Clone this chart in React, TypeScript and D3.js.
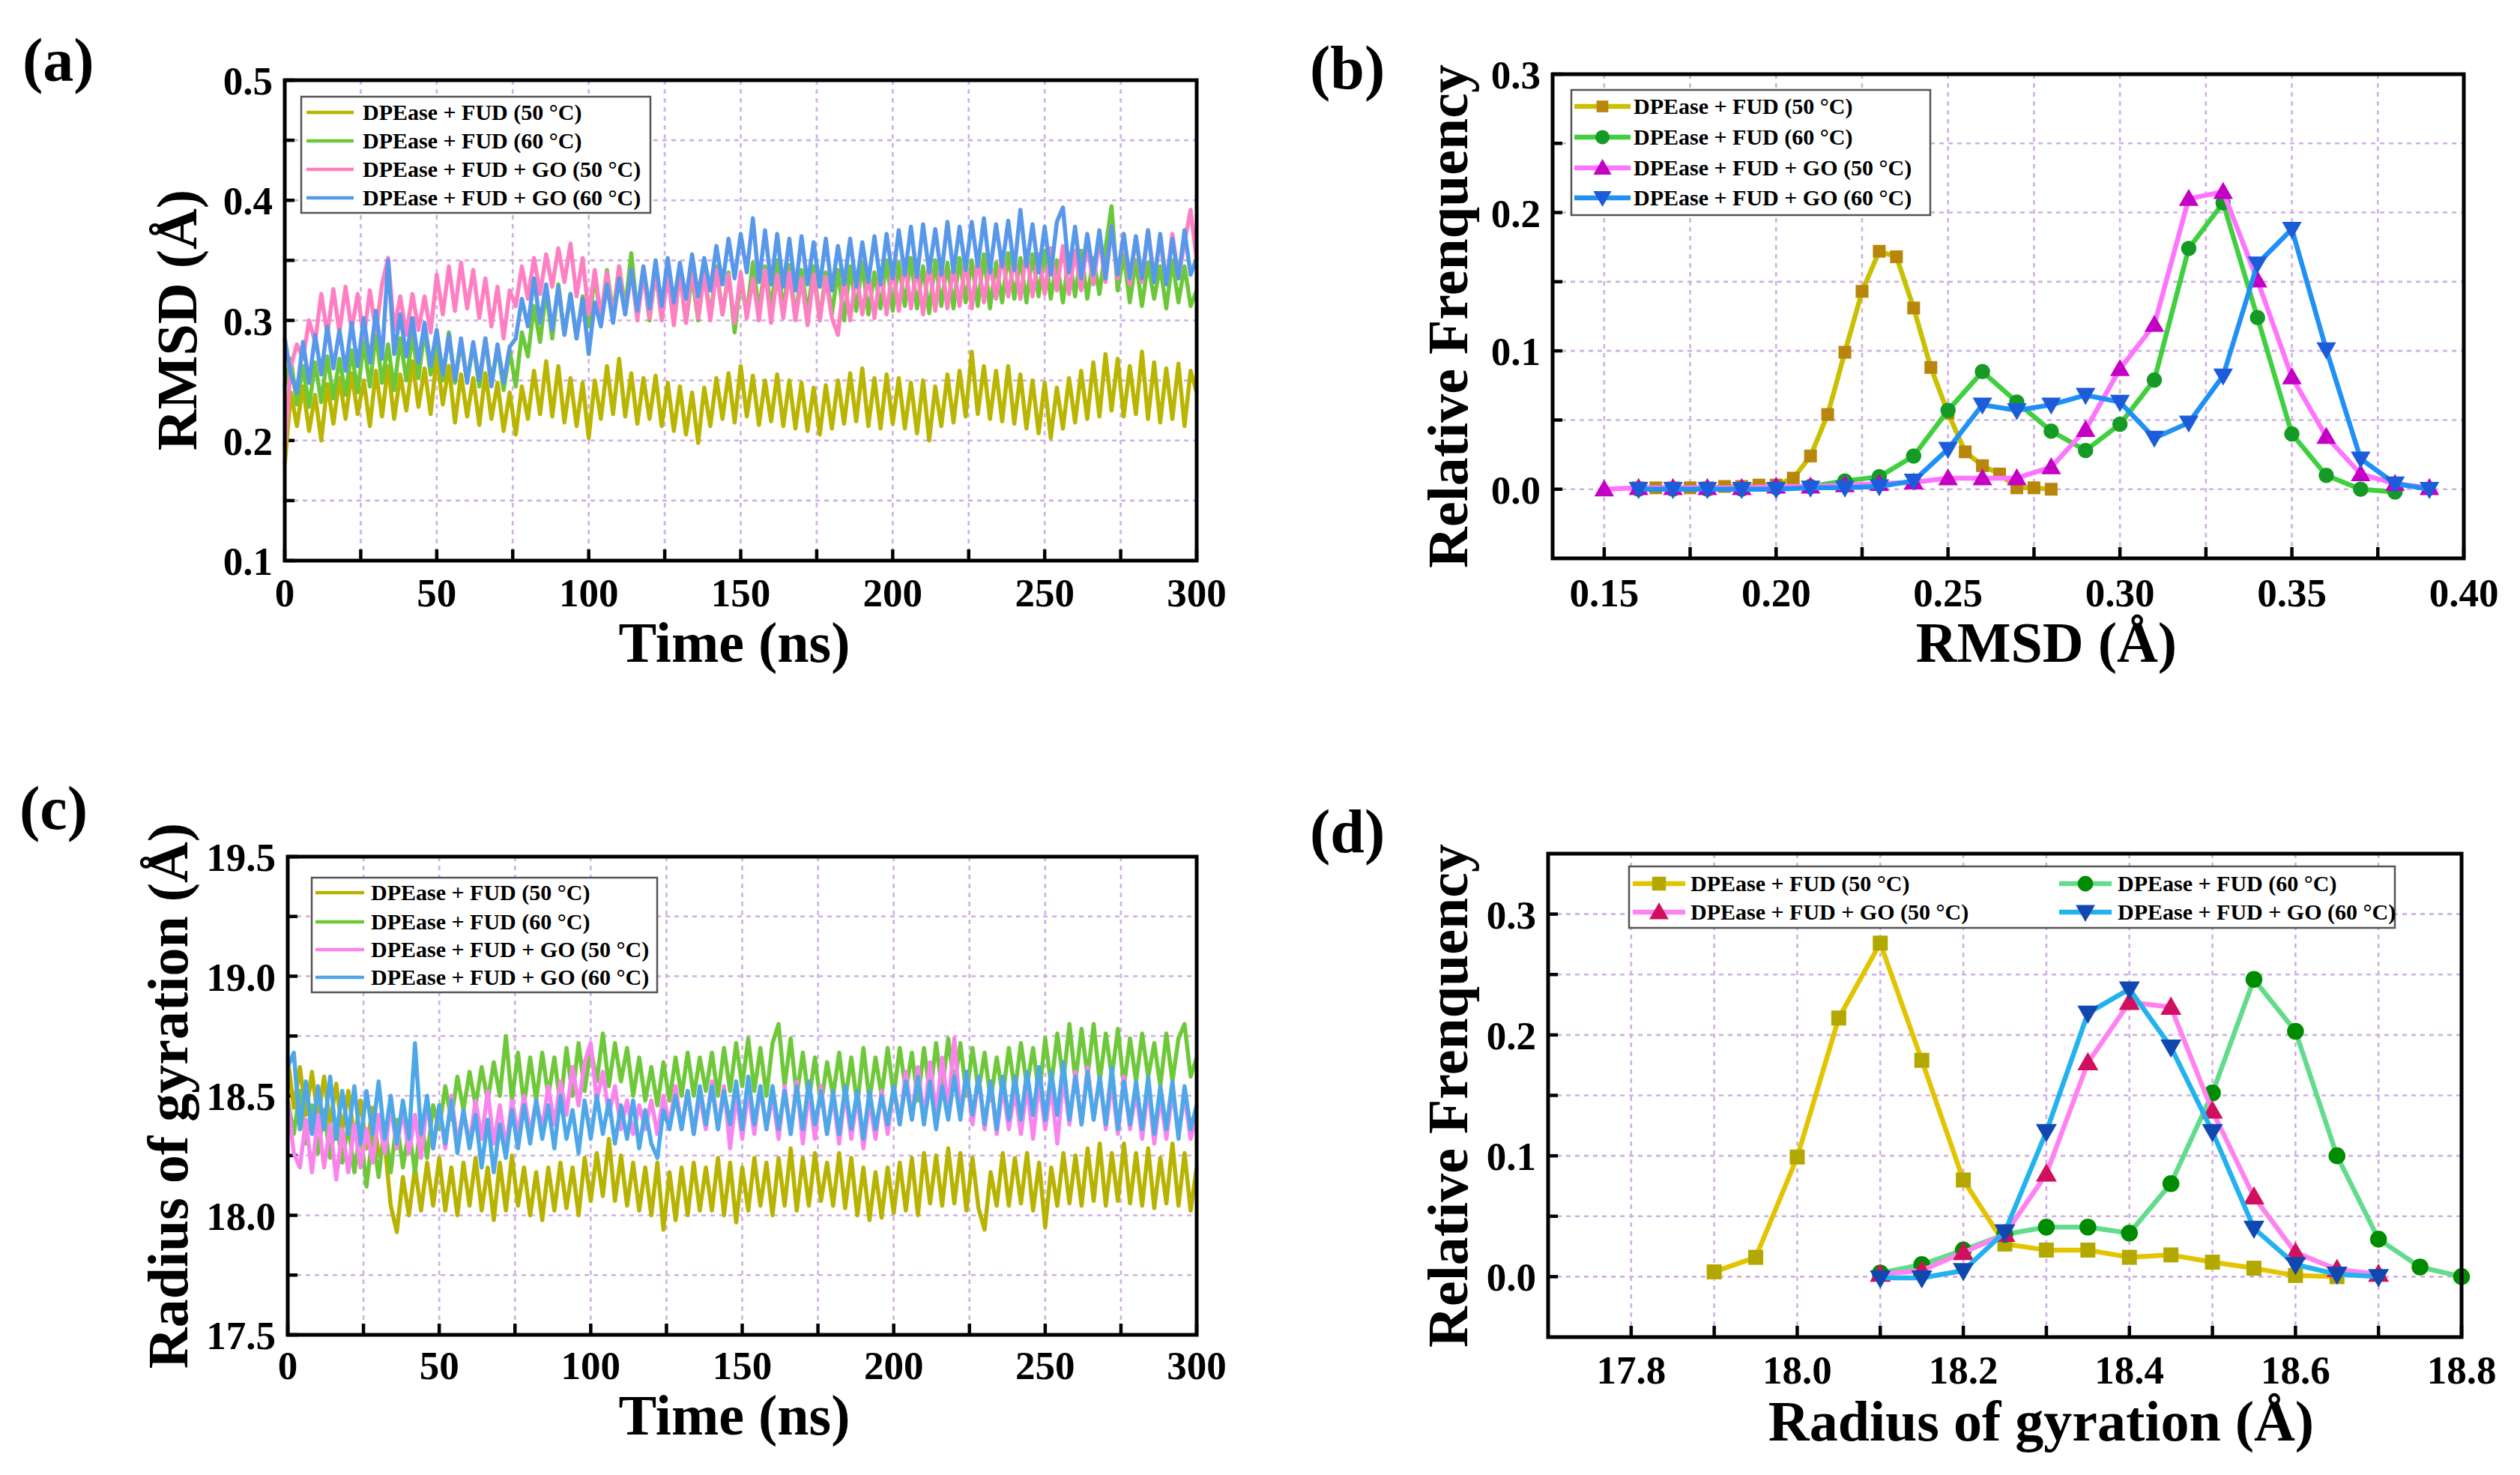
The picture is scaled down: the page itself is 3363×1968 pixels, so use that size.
import React from 'react';
import * as d3 from 'd3';

const FONT = '"Liberation Serif","Times New Roman",serif';

const LABELS = [
  'DPEase + FUD (50 °C)',
  'DPEase + FUD (60 °C)',
  'DPEase + FUD + GO (50 °C)',
  'DPEase + FUD + GO (60 °C)',
];

// ---------- (a) RMSD vs time, sampled every 2 ns ----------
const TIME = d3.range(0, 301, 2);

const RMSD_FUD50 = [
  0.180, 0.240, 0.212, 0.245, 0.208, 0.238, 0.200, 0.247, 0.214, 0.252,
  0.218, 0.256, 0.222, 0.250, 0.212, 0.258, 0.220, 0.262, 0.218, 0.255,
  0.225, 0.266, 0.228, 0.260, 0.222, 0.270, 0.230, 0.262, 0.215, 0.255,
  0.220, 0.252, 0.213, 0.256, 0.218, 0.248, 0.208, 0.240, 0.205, 0.245,
  0.218, 0.258, 0.222, 0.266, 0.220, 0.262, 0.215, 0.252, 0.212, 0.248,
  0.202, 0.250, 0.218, 0.262, 0.222, 0.268, 0.220, 0.256, 0.214, 0.252,
  0.218, 0.254, 0.212, 0.248, 0.208, 0.245, 0.205, 0.240, 0.198, 0.244,
  0.212, 0.252, 0.218, 0.256, 0.215, 0.262, 0.220, 0.254, 0.213, 0.250,
  0.216, 0.255, 0.212, 0.250, 0.210, 0.248, 0.208, 0.244, 0.205, 0.246,
  0.210, 0.250, 0.214, 0.256, 0.216, 0.260, 0.212, 0.252, 0.210, 0.255,
  0.214, 0.252, 0.210, 0.248, 0.206, 0.250, 0.200, 0.245, 0.212, 0.255,
  0.215, 0.258, 0.220, 0.274, 0.222, 0.262, 0.218, 0.258, 0.216, 0.262,
  0.214, 0.255, 0.210, 0.250, 0.206, 0.248, 0.202, 0.244, 0.210, 0.252,
  0.215, 0.258, 0.218, 0.265, 0.220, 0.272, 0.225, 0.268, 0.220, 0.262,
  0.222, 0.274, 0.218, 0.265, 0.215, 0.260, 0.218, 0.264, 0.212, 0.258,
  0.240,
];
const RMSD_FUD60 = [
  0.245, 0.268, 0.230, 0.262, 0.228, 0.265, 0.232, 0.270, 0.235, 0.268,
  0.238, 0.275, 0.240, 0.282, 0.245, 0.290, 0.248, 0.280, 0.242, 0.285,
  0.250, 0.288, 0.252, 0.292, 0.255, 0.285, 0.250, 0.290, 0.248, 0.282,
  0.250, 0.280, 0.245, 0.285, 0.248, 0.278, 0.242, 0.275, 0.245, 0.290,
  0.270, 0.312, 0.282, 0.325, 0.285, 0.330, 0.288, 0.322, 0.285, 0.320,
  0.295, 0.338, 0.300, 0.342, 0.305, 0.345, 0.310, 0.356, 0.305, 0.340,
  0.300, 0.342, 0.302, 0.345, 0.300, 0.340, 0.298, 0.338, 0.300, 0.342,
  0.302, 0.345, 0.305, 0.340, 0.290, 0.335, 0.305, 0.348, 0.308, 0.345,
  0.310, 0.350, 0.308, 0.346, 0.302, 0.342, 0.305, 0.345, 0.300, 0.340,
  0.305, 0.342, 0.300, 0.345, 0.308, 0.348, 0.305, 0.340, 0.310, 0.350,
  0.308, 0.348, 0.312, 0.352, 0.310, 0.345, 0.306, 0.350, 0.312, 0.348,
  0.310, 0.352, 0.315, 0.350, 0.312, 0.355, 0.310, 0.348, 0.315, 0.356,
  0.318, 0.352, 0.315, 0.355, 0.320, 0.358, 0.318, 0.350, 0.315, 0.355,
  0.320, 0.358, 0.318, 0.352, 0.322, 0.360, 0.395, 0.325, 0.355, 0.315,
  0.350, 0.312, 0.348, 0.318, 0.345, 0.310, 0.350, 0.315, 0.345, 0.312,
  0.325,
];
const RMSD_GO50 = [
  0.195, 0.262, 0.280, 0.268, 0.300, 0.282, 0.322, 0.288, 0.326, 0.290,
  0.328, 0.292, 0.322, 0.285, 0.325, 0.290, 0.330, 0.352, 0.292, 0.320,
  0.288, 0.322, 0.292, 0.320, 0.290, 0.338, 0.305, 0.345, 0.308, 0.348,
  0.310, 0.342, 0.302, 0.335, 0.295, 0.328, 0.285, 0.325, 0.312, 0.345,
  0.318, 0.352, 0.322, 0.355, 0.328, 0.360, 0.332, 0.364, 0.320, 0.352,
  0.305, 0.342, 0.302, 0.340, 0.300, 0.345, 0.305, 0.342, 0.300, 0.340,
  0.302, 0.342, 0.300, 0.338, 0.296, 0.340, 0.298, 0.345, 0.302, 0.338,
  0.300, 0.342, 0.305, 0.338, 0.298, 0.340, 0.302, 0.335, 0.300, 0.342,
  0.298, 0.338, 0.302, 0.340, 0.300, 0.335, 0.296, 0.338, 0.300, 0.336,
  0.302, 0.288, 0.335, 0.300, 0.340, 0.305, 0.338, 0.302, 0.342, 0.305,
  0.345, 0.308, 0.348, 0.310, 0.345, 0.305, 0.348, 0.308, 0.350, 0.310,
  0.345, 0.312, 0.350, 0.310, 0.352, 0.315, 0.348, 0.318, 0.355, 0.320,
  0.352, 0.318, 0.358, 0.320, 0.355, 0.322, 0.360, 0.325, 0.362, 0.322,
  0.358, 0.325, 0.365, 0.330, 0.368, 0.332, 0.378, 0.335, 0.372, 0.330,
  0.370, 0.332, 0.375, 0.335, 0.368, 0.330, 0.372, 0.335, 0.365, 0.392,
  0.350,
];
const RMSD_GO60 = [
  0.285, 0.255, 0.240, 0.282, 0.248, 0.288, 0.255, 0.295, 0.260, 0.292,
  0.258, 0.298, 0.262, 0.302, 0.265, 0.308, 0.268, 0.350, 0.272, 0.305,
  0.270, 0.302, 0.265, 0.298, 0.262, 0.292, 0.255, 0.288, 0.250, 0.285,
  0.248, 0.282, 0.250, 0.285, 0.245, 0.280, 0.248, 0.278, 0.285, 0.318,
  0.295, 0.335, 0.298, 0.330, 0.292, 0.328, 0.288, 0.322, 0.285, 0.318,
  0.272, 0.315, 0.295, 0.330, 0.298, 0.335, 0.305, 0.342, 0.308, 0.345,
  0.310, 0.350, 0.312, 0.352, 0.315, 0.348, 0.318, 0.355, 0.320, 0.352,
  0.325, 0.362, 0.330, 0.368, 0.335, 0.372, 0.340, 0.385, 0.332, 0.375,
  0.330, 0.372, 0.328, 0.368, 0.325, 0.370, 0.330, 0.365, 0.328, 0.368,
  0.325, 0.362, 0.330, 0.368, 0.328, 0.365, 0.332, 0.370, 0.330, 0.372,
  0.335, 0.375, 0.338, 0.378, 0.336, 0.380, 0.340, 0.376, 0.338, 0.382,
  0.340, 0.378, 0.342, 0.382, 0.345, 0.385, 0.340, 0.380, 0.345, 0.383,
  0.342, 0.392, 0.345, 0.380, 0.340, 0.378, 0.338, 0.382, 0.394, 0.340,
  0.378, 0.335, 0.372, 0.338, 0.375, 0.335, 0.378, 0.338, 0.372, 0.335,
  0.370, 0.335, 0.375, 0.332, 0.372, 0.330, 0.368, 0.335, 0.375, 0.338,
  0.352,
];

// ---------- (c) Radius of gyration vs time, sampled every 2 ns ----------
const RG_FUD50 = [
  18.66, 18.45, 18.62, 18.42, 18.60, 18.40, 18.58, 18.38, 18.55, 18.35,
  18.52, 18.32, 18.48, 18.28, 18.45, 18.25, 18.30, 18.04, 17.93, 18.16,
  18.00, 18.20, 18.02, 18.22, 18.04, 18.24, 18.02, 18.20, 18.00, 18.22,
  18.04, 18.24, 18.02, 18.20, 17.98, 18.22, 18.02, 18.25, 18.04, 18.20,
  18.00, 18.18, 17.98, 18.20, 18.02, 18.22, 18.03, 18.20, 18.00, 18.24,
  18.06, 18.26, 18.08, 18.32, 18.06, 18.25, 18.04, 18.22, 18.02, 18.20,
  18.00, 18.22, 17.94, 18.18, 17.98, 18.20, 18.00, 18.22, 18.02, 18.20,
  18.02, 18.24, 18.00, 18.22, 17.97, 18.20, 18.02, 18.24, 18.04, 18.22,
  18.00, 18.24, 18.04, 18.28, 18.02, 18.24, 18.04, 18.26, 18.06, 18.22,
  18.04, 18.26, 18.03, 18.24, 18.00, 18.20, 17.98, 18.18, 17.99, 18.20,
  18.01, 18.22, 18.02, 18.24, 18.00, 18.26, 18.05, 18.25, 18.04, 18.28,
  18.05, 18.26, 18.02, 18.24, 18.03, 17.94, 18.18, 18.04, 18.26, 18.04,
  18.24, 18.05, 18.26, 18.02, 18.22, 17.95, 18.20, 18.04, 18.26, 18.05,
  18.25, 18.04, 18.28, 18.06, 18.30, 18.04, 18.26, 18.06, 18.30, 18.05,
  18.26, 18.04, 18.28, 18.03, 18.24, 18.05, 18.30, 18.04, 18.26, 18.02,
  18.20,
];
const RG_FUD60 = [
  18.48, 18.34, 18.52, 18.30, 18.46, 18.26, 18.44, 18.24, 18.40, 18.22,
  18.38, 18.18, 18.36, 18.12, 18.34, 18.16, 18.38, 18.18, 18.40, 18.20,
  18.36, 18.18, 18.40, 18.24, 18.46, 18.36, 18.54, 18.40, 18.58, 18.44,
  18.60, 18.46, 18.62, 18.48, 18.64, 18.50, 18.75, 18.48, 18.68, 18.46,
  18.66, 18.48, 18.68, 18.50, 18.66, 18.46, 18.70, 18.50, 18.72, 18.52,
  18.70, 18.56, 18.76, 18.54, 18.72, 18.56, 18.70, 18.50, 18.66, 18.48,
  18.62, 18.46, 18.64, 18.48, 18.66, 18.50, 18.68, 18.50, 18.66, 18.52,
  18.68, 18.50, 18.70, 18.52, 18.72, 18.54, 18.74, 18.52, 18.70, 18.50,
  18.72, 18.80, 18.54, 18.74, 18.50, 18.68, 18.48, 18.66, 18.46, 18.64,
  18.50, 18.68, 18.48, 18.66, 18.46, 18.70, 18.48, 18.66, 18.50, 18.70,
  18.50, 18.70, 18.52, 18.68, 18.48, 18.70, 18.50, 18.72, 18.52, 18.74,
  18.54, 18.72, 18.50, 18.70, 18.52, 18.68, 18.48, 18.66, 18.50, 18.70,
  18.52, 18.72, 18.54, 18.70, 18.50, 18.74, 18.54, 18.76, 18.56, 18.80,
  18.56, 18.78, 18.58, 18.80, 18.56, 18.76, 18.58, 18.78, 18.54, 18.74,
  18.56, 18.76, 18.58, 18.72, 18.54, 18.76, 18.56, 18.74, 18.80, 18.58,
  18.66,
];
const RG_GO50 = [
  18.48, 18.26, 18.20, 18.40, 18.18, 18.42, 18.20, 18.38, 18.15, 18.36,
  18.18, 18.38, 18.20, 18.36, 18.22, 18.42, 18.26, 18.46, 18.28, 18.44,
  18.26, 18.42, 18.24, 18.48, 18.28, 18.46, 18.28, 18.50, 18.30, 18.44,
  18.30, 18.48, 18.32, 18.52, 18.30, 18.46, 18.28, 18.48, 18.34, 18.50,
  18.34, 18.48, 18.36, 18.54, 18.38, 18.56, 18.42, 18.62, 18.46, 18.64,
  18.72, 18.48, 18.60, 18.42, 18.54, 18.36, 18.48, 18.34, 18.46, 18.36,
  18.48, 18.34, 18.50, 18.38, 18.54, 18.36, 18.52, 18.34, 18.50, 18.36,
  18.56, 18.36, 18.54, 18.28, 18.50, 18.32, 18.52, 18.34, 18.54, 18.36,
  18.50, 18.32, 18.54, 18.34, 18.56, 18.30, 18.52, 18.32, 18.54, 18.34,
  18.50, 18.30, 18.52, 18.32, 18.50, 18.28, 18.48, 18.32, 18.52, 18.34,
  18.54, 18.38, 18.60, 18.40, 18.62, 18.40, 18.64, 18.42, 18.66, 18.44,
  18.74, 18.42, 18.60, 18.38, 18.58, 18.36, 18.56, 18.34, 18.54, 18.36,
  18.52, 18.34, 18.54, 18.32, 18.56, 18.36, 18.54, 18.30, 18.58, 18.38,
  18.60, 18.38, 18.62, 18.40, 18.58, 18.36, 18.56, 18.34, 18.58, 18.36,
  18.52, 18.32, 18.54, 18.30, 18.50, 18.32, 18.52, 18.34, 18.50, 18.32,
  18.42,
];
const RG_GO60 = [
  18.62, 18.68, 18.36, 18.56, 18.34, 18.54, 18.36, 18.58, 18.32, 18.52,
  18.34, 18.54, 18.30, 18.52, 18.34, 18.56, 18.32, 18.50, 18.30, 18.48,
  18.32, 18.72, 18.34, 18.50, 18.28, 18.46, 18.30, 18.48, 18.26, 18.44,
  18.28, 18.42, 18.20, 18.40, 18.18, 18.38, 18.24, 18.44, 18.28, 18.46,
  18.30, 18.48, 18.32, 18.46, 18.28, 18.50, 18.32, 18.44, 18.26, 18.48,
  18.32, 18.50, 18.34, 18.48, 18.30, 18.46, 18.32, 18.48, 18.28, 18.44,
  18.30, 18.24, 18.44, 18.36, 18.50, 18.36, 18.52, 18.34, 18.54, 18.38,
  18.54, 18.36, 18.52, 18.38, 18.56, 18.36, 18.58, 18.38, 18.54, 18.36,
  18.54, 18.36, 18.52, 18.34, 18.54, 18.36, 18.56, 18.38, 18.52, 18.34,
  18.52, 18.34, 18.54, 18.36, 18.52, 18.32, 18.52, 18.36, 18.50, 18.38,
  18.54, 18.38, 18.56, 18.40, 18.58, 18.38, 18.56, 18.36, 18.54, 18.40,
  18.58, 18.40, 18.60, 18.42, 18.58, 18.38, 18.56, 18.36, 18.58, 18.40,
  18.58, 18.40, 18.60, 18.42, 18.62, 18.40, 18.60, 18.42, 18.64, 18.40,
  18.58, 18.38, 18.60, 18.40, 18.58, 18.38, 18.62, 18.36, 18.56, 18.38,
  18.56, 18.36, 18.58, 18.34, 18.54, 18.36, 18.56, 18.32, 18.54, 18.36,
  18.46,
];

// ---------- (b) RMSD distributions ----------
const B_X_FUD50 = [0.16, 0.165, 0.17, 0.175, 0.18, 0.185, 0.19, 0.195, 0.20, 0.205, 0.21, 0.215, 0.22, 0.225, 0.23, 0.235, 0.24, 0.245, 0.25, 0.255, 0.26, 0.265, 0.27, 0.275, 0.28];
const B_Y_FUD50 = [0.001, 0.001, 0.001, 0.001, 0.001, 0.002, 0.002, 0.003, 0.003, 0.008, 0.024, 0.054, 0.099, 0.143, 0.172, 0.168, 0.131, 0.088, 0.055, 0.027, 0.017, 0.011, 0.001, 0.001, 0.0];
const B_X_FUD60 = [0.16, 0.17, 0.18, 0.19, 0.20, 0.21, 0.22, 0.23, 0.24, 0.25, 0.26, 0.27, 0.28, 0.29, 0.30, 0.31, 0.32, 0.33, 0.34, 0.35, 0.36, 0.37, 0.38];
const B_Y_FUD60 = [0.0, 0.0, 0.0, 0.0, 0.001, 0.002, 0.006, 0.009, 0.024, 0.057, 0.085, 0.063, 0.042, 0.028, 0.047, 0.079, 0.174, 0.207, 0.124, 0.040, 0.010, 0.0, -0.002];
const B_X_GO50 = [0.15, 0.16, 0.17, 0.18, 0.19, 0.20, 0.21, 0.22, 0.23, 0.24, 0.25, 0.26, 0.27, 0.28, 0.29, 0.30, 0.31, 0.32, 0.33, 0.34, 0.35, 0.36, 0.37, 0.38, 0.39];
const B_Y_GO50 = [0.0, 0.001, 0.001, 0.001, 0.001, 0.002, 0.002, 0.003, 0.004, 0.005, 0.008, 0.008, 0.008, 0.016, 0.043, 0.087, 0.119, 0.210, 0.215, 0.151, 0.081, 0.038, 0.011, 0.004, 0.001];
const B_X_GO60 = [0.16, 0.17, 0.18, 0.19, 0.20, 0.21, 0.22, 0.23, 0.24, 0.25, 0.26, 0.27, 0.28, 0.29, 0.30, 0.31, 0.32, 0.33, 0.34, 0.35, 0.36, 0.37, 0.38, 0.39];
const B_Y_GO60 = [0.0, 0.0, 0.0, 0.0, 0.0, 0.001, 0.001, 0.002, 0.006, 0.029, 0.061, 0.057, 0.061, 0.068, 0.063, 0.037, 0.048, 0.082, 0.163, 0.188, 0.101, 0.022, 0.004, 0.0];

// ---------- (d) Rg distributions ----------
const D_X_FUD50 = [17.9, 17.95, 18.0, 18.05, 18.1, 18.15, 18.2, 18.25, 18.3, 18.35, 18.4, 18.45, 18.5, 18.55, 18.6, 18.65];
const D_Y_FUD50 = [0.004, 0.016, 0.099, 0.214, 0.276, 0.179, 0.080, 0.027, 0.022, 0.022, 0.016, 0.018, 0.012, 0.007, 0.001, 0.0];
const D_X_FUD60 = [18.1, 18.15, 18.2, 18.25, 18.3, 18.35, 18.4, 18.45, 18.5, 18.55, 18.6, 18.65, 18.7, 18.75, 18.8];
const D_Y_FUD60 = [0.003, 0.010, 0.022, 0.035, 0.041, 0.041, 0.036, 0.077, 0.152, 0.246, 0.203, 0.100, 0.031, 0.008, 0.0];
const D_X_GO50 = [18.1, 18.15, 18.2, 18.25, 18.3, 18.35, 18.4, 18.45, 18.5, 18.55, 18.6, 18.65, 18.7];
const D_Y_GO50 = [0.002, 0.005, 0.020, 0.035, 0.085, 0.177, 0.227, 0.223, 0.137, 0.066, 0.020, 0.006, 0.002];
const D_X_GO60 = [18.1, 18.15, 18.2, 18.25, 18.3, 18.35, 18.4, 18.45, 18.5, 18.55, 18.6, 18.65, 18.7];
const D_Y_GO60 = [-0.001, -0.001, 0.005, 0.037, 0.120, 0.218, 0.238, 0.190, 0.120, 0.040, 0.010, 0.002, 0.0];

// ---------- axis ticks ----------
const A_X_TICKS = [0, 50, 100, 150, 200, 250, 300];
const A_Y_TICKS = [0.1, 0.2, 0.3, 0.4, 0.5];
const B_X_TICKS = [0.15, 0.20, 0.25, 0.30, 0.35, 0.40];
const B_Y_TICKS = [0.0, 0.1, 0.2, 0.3];
const C_Y_TICKS = [17.5, 18.0, 18.5, 19.0, 19.5];
const D_X_TICKS = [17.8, 18.0, 18.2, 18.4, 18.6, 18.8];

// ---------- styles ----------
const A_COLORS = ['#bab500', '#6cc83a', '#ff80c2', '#5898ea'];
const C_COLORS = ['#b8b300', '#6fc83a', '#fa84ee', '#4ea8e8'];
const B_LINE = ['#c8c000', '#3fcf3f', '#ff74ff', '#2090f4'];
const B_MARK = ['#b8860b', '#169a26', '#c400c4', '#1c5cd8'];
const D_LINE = ['#e2c400', '#62dc8c', '#ff82f0', '#22b2ee'];
const D_MARK = ['#b2a800', '#008c00', '#d0105e', '#1048b0'];
const SYMBOLS = [d3.symbolSquare, d3.symbolCircle, d3.symbolTriangle, d3.symbolTriangle];

const GRID = '#cfb0e4';

type Frame = { x0: number; x1: number; y0: number; y1: number };

function Axes(props: {
  f: Frame;
  xs: d3.ScaleLinear<number, number>;
  ys: d3.ScaleLinear<number, number>;
  gridX: number[];
  gridY: number[];
  tickX: number[];
  tickY: number[];
  labX: number[];
  labY: number[];
  fmtX: (v: number) => string;
  fmtY: (v: number) => string;
  xBase: number;
  yRight: number;
}) {
  const { f, xs, ys } = props;
  return (
    <g>
      {props.gridX.map((v, i) => (
        <line key={'gx' + i} x1={xs(v)} x2={xs(v)} y1={f.y0} y2={f.y1} stroke={GRID} strokeWidth={2.6} strokeDasharray="6,6" />
      ))}
      {props.gridY.map((v, i) => (
        <line key={'gy' + i} x1={f.x0} x2={f.x1} y1={ys(v)} y2={ys(v)} stroke={GRID} strokeWidth={2.6} strokeDasharray="6,6" />
      ))}
      {props.tickX.map((v, i) => (
        <line key={'tx' + i} x1={xs(v)} x2={xs(v)} y1={f.y1} y2={f.y1 - 15} stroke="#000" strokeWidth={4.5} />
      ))}
      {props.tickY.map((v, i) => (
        <line key={'ty' + i} x1={f.x0} x2={f.x0 + 13} y1={ys(v)} y2={ys(v)} stroke="#000" strokeWidth={4.5} />
      ))}
      {props.labX.map((v, i) => (
        <text key={'lx' + i} x={xs(v)} y={props.xBase} textAnchor="middle" fontFamily={FONT} fontWeight="bold" fontSize={53}>
          {props.fmtX(v)}
        </text>
      ))}
      {props.labY.map((v, i) => (
        <text key={'ly' + i} x={props.yRight} y={ys(v)} dy="0.36em" textAnchor="end" fontFamily={FONT} fontWeight="bold" fontSize={53}>
          {props.fmtY(v)}
        </text>
      ))}
    </g>
  );
}

function FrameRect({ f }: { f: Frame }) {
  return <rect x={f.x0} y={f.y0} width={f.x1 - f.x0} height={f.y1 - f.y0} fill="none" stroke="#000" strokeWidth={5} />;
}

function TimePanel(props: {
  f: Frame;
  yDomain: [number, number];
  series: number[][];
  colors: string[];
  yTicks: number[];
  yStep: number;
  fmtY: (v: number) => string;
  xBase: number;
  legend: { x: number; y: number; w: number; h: number; rows: number[]; lx0: number; lx1: number; tx: number };
}) {
  const { f } = props;
  const xs = d3.scaleLinear().domain([0, 300]).range([f.x0, f.x1]);
  const ys = d3.scaleLinear().domain(props.yDomain).range([f.y1, f.y0]);
  const gridX = d3.range(25, 300, 25);
  const gridY = d3.range(props.yDomain[0] + props.yStep, props.yDomain[1] - 1e-9, props.yStep);
  const tickY = d3.range(props.yDomain[0], props.yDomain[1] + 1e-9, props.yStep);
  const line = d3.line<number>().x((_, i) => xs(TIME[i])).y((d) => ys(d));
  const L = props.legend;
  return (
    <g>
      <Axes
        f={f} xs={xs} ys={ys}
        gridX={gridX} gridY={gridY}
        tickX={d3.range(0, 301, 25)} tickY={tickY}
        labX={A_X_TICKS} labY={props.yTicks}
        fmtX={(v) => String(v)} fmtY={props.fmtY}
        xBase={props.xBase} yRight={f.x0 - 16}
      />
      {props.series.map((s, i) => (
        <path key={i} d={line(s) || ''} fill="none" stroke={props.colors[i]} strokeWidth={5.5} strokeLinejoin="round" />
      ))}
      <rect x={L.x} y={L.y} width={L.w} height={L.h} fill="#fff" stroke="#555" strokeWidth={2.5} />
      {LABELS.map((lab, i) => (
        <g key={lab}>
          <line x1={L.lx0} x2={L.lx1} y1={L.rows[i]} y2={L.rows[i]} stroke={props.colors[i]} strokeWidth={4.5} />
          <text x={L.tx} y={L.rows[i]} dy="0.34em" fontFamily={FONT} fontWeight="bold" fontSize={30}>{lab}</text>
        </g>
      ))}
      <FrameRect f={f} />
    </g>
  );
}

function Marker({ x, y, k, color, size }: { x: number; y: number; k: number; color: string; size: number }) {
  const p = d3.symbol().type(SYMBOLS[k]).size(size)() || '';
  const rot = k === 3 ? 180 : 0;
  const dy = k === 2 ? 2 : k === 3 ? -2 : 0;
  return <path d={p} transform={`translate(${x},${y + dy}) rotate(${rot})`} fill={color} />;
}

function DistPanel(props: {
  f: Frame;
  xDomain: [number, number];
  yDomain: [number, number];
  xs_: number[][];
  ys_: number[][];
  lineColors: string[];
  markColors: string[];
  sizes: number[];
  gridX: number[];
  gridY: number[];
  tickX: number[];
  tickY: number[];
  labX: number[];
  fmtX: (v: number) => string;
  xBase: number;
  legendBox: { x: number; y: number; w: number; h: number };
  legendItems: { lx0: number; lx1: number; tx: number; y: number }[];
}) {
  const { f } = props;
  const xs = d3.scaleLinear().domain(props.xDomain).range([f.x0, f.x1]);
  const ys = d3.scaleLinear().domain(props.yDomain).range([f.y1, f.y0]);
  const LB = props.legendBox;
  return (
    <g>
      <Axes
        f={f} xs={xs} ys={ys}
        gridX={props.gridX} gridY={props.gridY}
        tickX={props.tickX} tickY={props.tickY}
        labX={props.labX} labY={B_Y_TICKS}
        fmtX={props.fmtX} fmtY={d3.format('.1f')}
        xBase={props.xBase} yRight={f.x0 - 16}
      />
      {props.xs_.map((xv, i) => {
        const pts: [number, number][] = xv.map((x, j) => [x, props.ys_[i][j]]);
        const line = d3.line<[number, number]>().x((d) => xs(d[0])).y((d) => ys(d[1]));
        return (
          <g key={i}>
            <path d={line(pts) || ''} fill="none" stroke={props.lineColors[i]} strokeWidth={6.5} strokeLinejoin="round" />
            {pts.map((d, j) => (
              <Marker key={j} x={xs(d[0])} y={ys(d[1])} k={i} color={props.markColors[i]} size={props.sizes[i]} />
            ))}
          </g>
        );
      })}
      <rect x={LB.x} y={LB.y} width={LB.w} height={LB.h} fill="#fff" stroke="#555" strokeWidth={2.5} />
      {props.legendItems.map((it, i) => (
        <g key={i}>
          <line x1={it.lx0} x2={it.lx1} y1={it.y} y2={it.y} stroke={props.lineColors[i]} strokeWidth={6.5} />
          <Marker x={(it.lx0 + it.lx1) / 2} y={it.y} k={i} color={props.markColors[i]} size={props.sizes[i] * 0.85} />
          <text x={it.tx} y={it.y} dy="0.34em" fontFamily={FONT} fontWeight="bold" fontSize={30}>{LABELS[i]}</text>
        </g>
      ))}
      <FrameRect f={f} />
    </g>
  );
}

function Title({ x, y, text, rotate = false, size = 76 }: { x: number; y: number; text: string; rotate?: boolean; size?: number }) {
  return (
    <text
      x={rotate ? 0 : x}
      y={rotate ? 0 : y}
      transform={rotate ? `translate(${x},${y}) rotate(-90)` : undefined}
      textAnchor="middle"
      fontFamily={FONT}
      fontWeight="bold"
      fontSize={size}
    >
      {text}
    </text>
  );
}

export default function App() {
  const fA: Frame = { x0: 380, x1: 1597, y0: 107, y1: 748 };
  const fB: Frame = { x0: 2072, x1: 3288, y0: 99, y1: 745 };
  const fC: Frame = { x0: 384, x1: 1597, y0: 1143, y1: 1781 };
  const fD: Frame = { x0: 2066, x1: 3285, y0: 1139, y1: 1784 };

  return (
    <div style={{ position: 'absolute', left: 0, top: 0 }}>
      <svg width={3363} height={1968} viewBox="0 0 3363 1968" style={{ display: 'block', background: '#fff' }}>
        <rect x={0} y={0} width={3363} height={1968} fill="#fff" />

        {/* (a) */}
        <TimePanel
          f={fA}
          yDomain={[0.1, 0.5]}
          series={[RMSD_FUD50, RMSD_FUD60, RMSD_GO50, RMSD_GO60]}
          colors={A_COLORS}
          yTicks={A_Y_TICKS}
          yStep={0.05}
          fmtY={d3.format('.1f')}
          xBase={809}
          legend={{ x: 402, y: 129, w: 466, h: 155, rows: [150, 188, 226, 264], lx0: 409, lx1: 472, tx: 484 }}
        />
        <Title x={980} y={883} text="Time (ns)" />
        <Title x={262} y={427} text="RMSD (Å)" rotate />
        <text x={30} y={108} fontFamily={FONT} fontWeight="bold" fontSize={82}>(a)</text>

        {/* (b) */}
        <DistPanel
          f={fB}
          xDomain={[0.135, 0.40]}
          yDomain={[-0.05, 0.3]}
          xs_={[B_X_FUD50, B_X_FUD60, B_X_GO50, B_X_GO60]}
          ys_={[B_Y_FUD50, B_Y_FUD60, B_Y_GO50, B_Y_GO60]}
          lineColors={B_LINE}
          markColors={B_MARK}
          sizes={[290, 330, 300, 300]}
          gridX={d3.range(0, 10).map((i) => 0.15 + i * 0.025)}
          gridY={[0.0, 0.05, 0.1, 0.15, 0.2, 0.25]}
          tickX={d3.range(0, 11).map((i) => 0.15 + i * 0.025)}
          tickY={[0.0, 0.05, 0.1, 0.15, 0.2, 0.25, 0.3]}
          labX={B_X_TICKS}
          fmtX={d3.format('.2f')}
          xBase={809}
          legendBox={{ x: 2097, y: 120, w: 479, h: 167 }}
          legendItems={[
            { lx0: 2101, lx1: 2176, tx: 2180, y: 142 },
            { lx0: 2101, lx1: 2176, tx: 2180, y: 183 },
            { lx0: 2101, lx1: 2176, tx: 2180, y: 224 },
            { lx0: 2101, lx1: 2176, tx: 2180, y: 264 },
          ]}
        />
        <Title x={2731} y={883} text="RMSD (Å)" />
        <Title x={1958} y={422} text="Relative Frenquency" rotate />
        <text x={1748} y={118} fontFamily={FONT} fontWeight="bold" fontSize={82}>(b)</text>

        {/* (c) */}
        <TimePanel
          f={fC}
          yDomain={[17.5, 19.5]}
          series={[RG_FUD50, RG_FUD60, RG_GO50, RG_GO60]}
          colors={C_COLORS}
          yTicks={C_Y_TICKS}
          yStep={0.25}
          fmtY={d3.format('.1f')}
          xBase={1840}
          legend={{ x: 416, y: 1171, w: 461, h: 153, rows: [1191, 1230, 1267, 1304], lx0: 421, lx1: 486, tx: 495 }}
        />
        <Title x={980} y={1914} text="Time (ns)" />
        <Title x={250} y={1462} text="Radius of gyration (Å)" rotate />
        <text x={26} y={1106} fontFamily={FONT} fontWeight="bold" fontSize={82}>(c)</text>

        {/* (d) */}
        <DistPanel
          f={fD}
          xDomain={[17.7, 18.8]}
          yDomain={[-0.05, 0.35]}
          xs_={[D_X_FUD50, D_X_FUD60, D_X_GO50, D_X_GO60]}
          ys_={[D_Y_FUD50, D_Y_FUD60, D_Y_GO50, D_Y_GO60]}
          lineColors={D_LINE}
          markColors={D_MARK}
          sizes={[400, 400, 340, 340]}
          gridX={d3.range(0, 10).map((i) => 17.8 + i * 0.1)}
          gridY={[0.0, 0.05, 0.1, 0.15, 0.2, 0.25, 0.3]}
          tickX={d3.range(0, 11).map((i) => 17.8 + i * 0.1)}
          tickY={[0.0, 0.05, 0.1, 0.15, 0.2, 0.25, 0.3]}
          labX={D_X_TICKS}
          fmtX={d3.format('.1f')}
          xBase={1846}
          legendBox={{ x: 2174, y: 1156, w: 1022, h: 82 }}
          legendItems={[
            { lx0: 2179, lx1: 2249, tx: 2256, y: 1179 },
            { lx0: 2748, lx1: 2818, tx: 2826, y: 1179 },
            { lx0: 2179, lx1: 2249, tx: 2256, y: 1217 },
            { lx0: 2748, lx1: 2818, tx: 2826, y: 1217 },
          ]}
        />
        <Title x={2724} y={1922} text="Radius of gyration (Å)" />
        <Title x={1958} y={1462} text="Relative Frenquency" rotate />
        <text x={1748} y={1137} fontFamily={FONT} fontWeight="bold" fontSize={82}>(d)</text>
      </svg>
    </div>
  );
}
